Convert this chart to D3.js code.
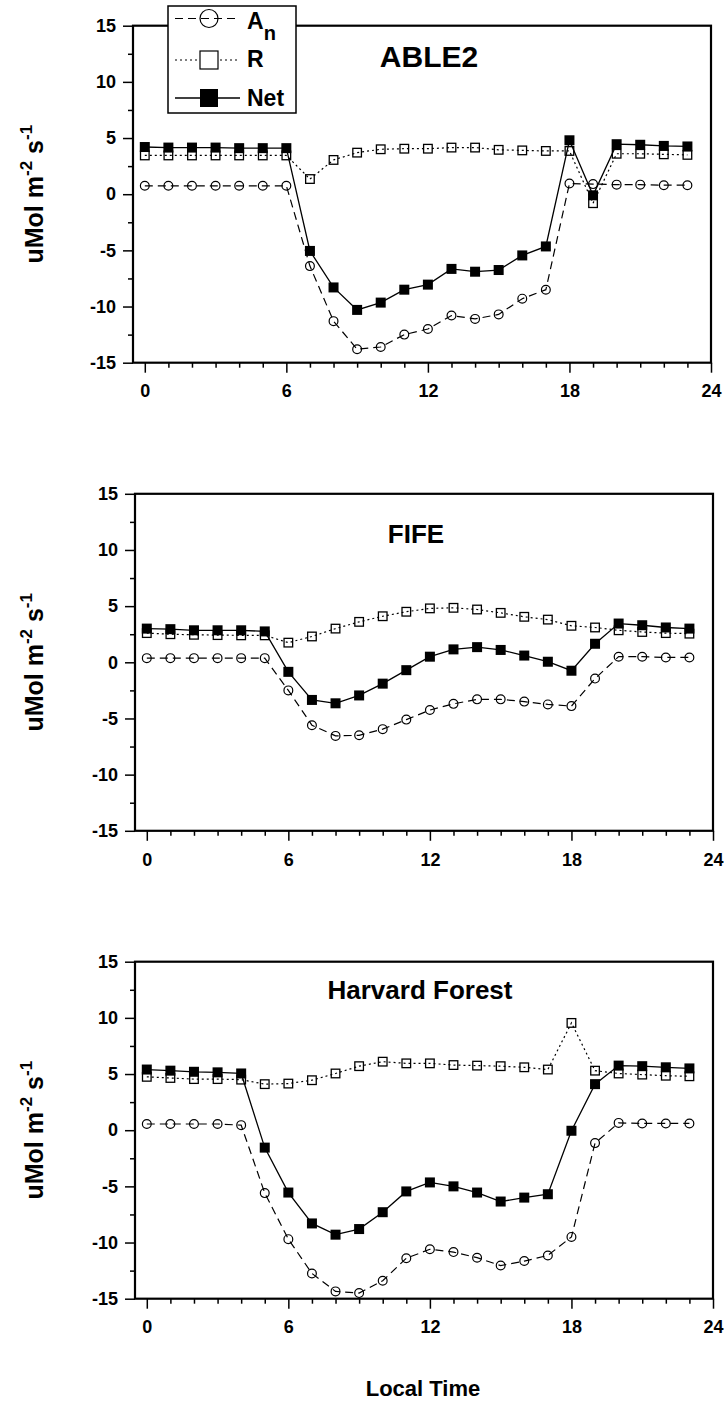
<!DOCTYPE html>
<html>
<head>
<meta charset="utf-8">
<script src="https://cdn.jsdelivr.net/npm/d3@7"></script>
<style>
  html, body { margin: 0; padding: 0; background: #fff; }
  svg { display: block; font-family: "Liberation Sans", Arial, sans-serif; font-weight: bold; }
</style>
</head>
<body>
<svg id="chart" width="724" height="1414"></svg>
<script>
// Hour of day for every sample
const HOURS = [0,1,2,3,4,5,6,7,8,9,10,11,12,13,14,15,16,17,18,19,20,21,22,23];

// ABLE2 fluxes (uMol m-2 s-1)
const ABLE2_AN  = [0.75,0.75,0.75,0.75,0.75,0.75,0.75,-6.4,-11.3,-13.8,-13.6,-12.5,-12.0,-10.8,-11.1,-10.7,-9.3,-8.5,0.95,0.9,0.85,0.85,0.8,0.8];
const ABLE2_R   = [3.45,3.45,3.45,3.45,3.45,3.45,3.45,1.35,3.05,3.7,4.0,4.05,4.05,4.15,4.15,3.95,3.9,3.85,3.85,-0.8,3.6,3.6,3.55,3.5];
const ABLE2_NET = [4.2,4.15,4.15,4.15,4.1,4.1,4.1,-5.05,-8.3,-10.3,-9.65,-8.5,-8.05,-6.65,-6.9,-6.75,-5.45,-4.65,4.8,-0.1,4.45,4.4,4.3,4.25];

// FIFE fluxes
const FIFE_AN  = [0.37,0.37,0.37,0.37,0.37,0.37,-2.5,-5.6,-6.55,-6.5,-5.95,-5.1,-4.25,-3.7,-3.3,-3.3,-3.5,-3.75,-3.9,-1.45,0.5,0.5,0.43,0.43];
const FIFE_R   = [2.6,2.5,2.45,2.42,2.4,2.4,1.75,2.3,3.0,3.6,4.1,4.5,4.8,4.85,4.7,4.4,4.05,3.8,3.25,3.1,2.85,2.7,2.6,2.55];
const FIFE_NET = [3.0,2.95,2.85,2.85,2.85,2.75,-0.85,-3.35,-3.65,-2.95,-1.9,-0.7,0.5,1.15,1.35,1.1,0.6,0.05,-0.75,1.65,3.45,3.3,3.1,3.0];

// Harvard Forest fluxes
const HARVARD_AN  = [0.55,0.55,0.55,0.55,0.45,-5.6,-9.7,-12.75,-14.35,-14.5,-13.4,-11.4,-10.6,-10.85,-11.35,-12.05,-11.65,-11.15,-9.5,-1.15,0.65,0.6,0.6,0.6];
const HARVARD_R   = [4.75,4.65,4.55,4.55,4.5,4.1,4.15,4.45,5.05,5.7,6.1,5.95,5.95,5.8,5.75,5.7,5.6,5.4,9.55,5.3,5.05,4.95,4.85,4.8];
const HARVARD_NET = [5.4,5.3,5.2,5.15,5.05,-1.55,-5.55,-8.3,-9.3,-8.8,-7.3,-5.45,-4.65,-5.0,-5.55,-6.35,-6.0,-5.7,-0.05,4.1,5.75,5.7,5.6,5.5];

const PANEL_TITLES = ["ABLE2", "FIFE", "Harvard Forest"];
const X_MAJOR = [0, 6, 12, 18, 24];
const X_MINOR = [1,2,3,4,5,7,8,9,10,11,13,14,15,16,17,19,20,21,22,23];
const Y_MAJOR = [-15, -10, -5, 0, 5, 10, 15];
const Y_MINOR = [-12.5, -7.5, -2.5, 2.5, 7.5, 12.5];
const X_LABEL = "Local Time";

const panels = [
  { title: PANEL_TITLES[0], an: ABLE2_AN,   r: ABLE2_R,   net: ABLE2_NET,   left: 133, top: 25.7,  titleX: 429, titleY: 67,  titleSize: 30 },
  { title: PANEL_TITLES[1], an: FIFE_AN,    r: FIFE_R,    net: FIFE_NET,    left: 135, top: 493.8, titleX: 416, titleY: 543, titleSize: 26 },
  { title: PANEL_TITLES[2], an: HARVARD_AN, r: HARVARD_R, net: HARVARD_NET, left: 135, top: 961.7, titleX: 420, titleY: 999, titleSize: 26 }
];

const W = 578, H = 337;
const svg = d3.select("#chart");
const plain = d => String(d);   // hyphen-minus, as printed on the axes

function styleLabels(a) {
  a.selectAll("text").attr("font-size", 18).attr("font-weight", "bold").attr("fill", "#000")
    .attr("font-family", "Liberation Sans, Arial, sans-serif");
}

panels.forEach(p => {
  const x = d3.scaleLinear().domain([-0.5, 24]).range([p.left, p.left + W]);
  const y = d3.scaleLinear().domain([-15, 15]).range([p.top + H, p.top]);
  const g = svg.append("g");

  // y axis: major ticks with labels, minor ticks between
  g.append("g").attr("transform", `translate(${p.left},0)`)
    .call(d3.axisLeft(y).tickValues(Y_MAJOR).tickSize(10).tickPadding(7).tickFormat(plain))
    .call(a => a.select(".domain").remove())
    .call(a => a.selectAll("line").attr("stroke-width", 1.5))
    .call(styleLabels);
  g.append("g").attr("transform", `translate(${p.left},0)`)
    .call(d3.axisLeft(y).tickValues(Y_MINOR).tickSize(5).tickFormat(""))
    .call(a => a.select(".domain").remove())
    .call(a => a.selectAll("line").attr("stroke-width", 1.5));

  // x axis
  g.append("g").attr("transform", `translate(0,${p.top + H})`)
    .call(d3.axisBottom(x).tickValues(X_MAJOR).tickSize(10).tickPadding(12).tickFormat(plain))
    .call(a => a.select(".domain").remove())
    .call(a => a.selectAll("line").attr("stroke-width", 1.5))
    .call(styleLabels);
  g.append("g").attr("transform", `translate(0,${p.top + H})`)
    .call(d3.axisBottom(x).tickValues(X_MINOR).tickSize(5).tickFormat(""))
    .call(a => a.select(".domain").remove())
    .call(a => a.selectAll("line").attr("stroke-width", 1.5));

  // plot frame
  g.append("rect")
    .attr("x", p.left).attr("y", p.top).attr("width", W).attr("height", H)
    .attr("fill", "none").attr("stroke", "#000").attr("stroke-width", 2.2);

  // y label with superscripts
  const yl = g.append("text")
    .attr("transform", `translate(43,${p.top + H / 2}) rotate(-90)`)
    .attr("text-anchor", "middle").attr("font-size", 25).attr("fill", "#000");
  yl.append("tspan").text("uMol m");
  yl.append("tspan").attr("font-size", 17).attr("dy", -11).text("-2");
  yl.append("tspan").attr("dy", 11).text(" s");
  yl.append("tspan").attr("font-size", 17).attr("dy", -11).text("-1");

  // title
  g.append("text").attr("x", p.titleX).attr("y", p.titleY)
    .attr("text-anchor", "middle").attr("font-size", p.titleSize).attr("fill", "#000").text(p.title);

  const line = d3.line().x((d, i) => x(HOURS[i])).y(d => y(d));

  // A_n: dashed line, open circles
  g.append("path").datum(p.an).attr("d", line)
    .attr("fill", "none").attr("stroke", "#000").attr("stroke-width", 1.2).attr("stroke-dasharray", "8,5");
  g.selectAll(".an").data(p.an).enter().append("circle")
    .attr("cx", (d, i) => x(HOURS[i])).attr("cy", d => y(d)).attr("r", 4.4)
    .attr("fill", "none").attr("stroke", "#000").attr("stroke-width", 1.2);

  // R: dotted line, open squares
  g.append("path").datum(p.r).attr("d", line)
    .attr("fill", "none").attr("stroke", "#000").attr("stroke-width", 1.2).attr("stroke-dasharray", "2,3");
  g.selectAll(".r").data(p.r).enter().append("rect")
    .attr("x", (d, i) => x(HOURS[i]) - 4.3).attr("y", d => y(d) - 4.3).attr("width", 8.6).attr("height", 8.6)
    .attr("fill", "none").attr("stroke", "#000").attr("stroke-width", 1.3);

  // Net: solid line, filled squares
  g.append("path").datum(p.net).attr("d", line)
    .attr("fill", "none").attr("stroke", "#000").attr("stroke-width", 1.3);
  g.selectAll(".net").data(p.net).enter().append("rect")
    .attr("x", (d, i) => x(HOURS[i]) - 5).attr("y", d => y(d) - 5).attr("width", 10).attr("height", 10)
    .attr("fill", "#000");
});

// legend in the first panel
const lg = svg.append("g");
lg.append("rect").attr("x", 168).attr("y", 6).attr("width", 128).attr("height", 107)
  .attr("fill", "#fff").attr("stroke", "#000").attr("stroke-width", 1.5);
const ly = [18.5, 60, 98];
// A_n
lg.append("line").attr("x1", 175).attr("x2", 240).attr("y1", ly[0]).attr("y2", ly[0])
  .attr("stroke", "#000").attr("stroke-width", 1.2).attr("stroke-dasharray", "8,5");
lg.append("circle").attr("cx", 209).attr("cy", ly[0]).attr("r", 9)
  .attr("fill", "none").attr("stroke", "#000").attr("stroke-width", 1.2);
const ta = lg.append("text").attr("x", 247).attr("y", 29).attr("font-size", 23).attr("fill", "#000");
ta.append("tspan").text("A");
ta.append("tspan").attr("font-size", 20).attr("dy", 11).text("n");
// R
lg.append("line").attr("x1", 175).attr("x2", 240).attr("y1", ly[1]).attr("y2", ly[1])
  .attr("stroke", "#000").attr("stroke-width", 1.2).attr("stroke-dasharray", "2,3");
lg.append("rect").attr("x", 200).attr("y", ly[1] - 9).attr("width", 18).attr("height", 18)
  .attr("fill", "#fff").attr("stroke", "#000").attr("stroke-width", 1.2);
lg.append("text").attr("x", 247).attr("y", 67).attr("font-size", 23).attr("fill", "#000").text("R");
// Net
lg.append("line").attr("x1", 175).attr("x2", 240).attr("y1", ly[2]).attr("y2", ly[2])
  .attr("stroke", "#000").attr("stroke-width", 1.3);
lg.append("rect").attr("x", 200).attr("y", ly[2] - 9).attr("width", 18).attr("height", 18).attr("fill", "#000");
lg.append("text").attr("x", 247).attr("y", 106).attr("font-size", 23).attr("fill", "#000").text("Net");

// shared x label
svg.append("text").attr("x", 423).attr("y", 1396).attr("text-anchor", "middle")
  .attr("font-size", 22).attr("fill", "#000").text(X_LABEL);
</script>
</body>
</html>
